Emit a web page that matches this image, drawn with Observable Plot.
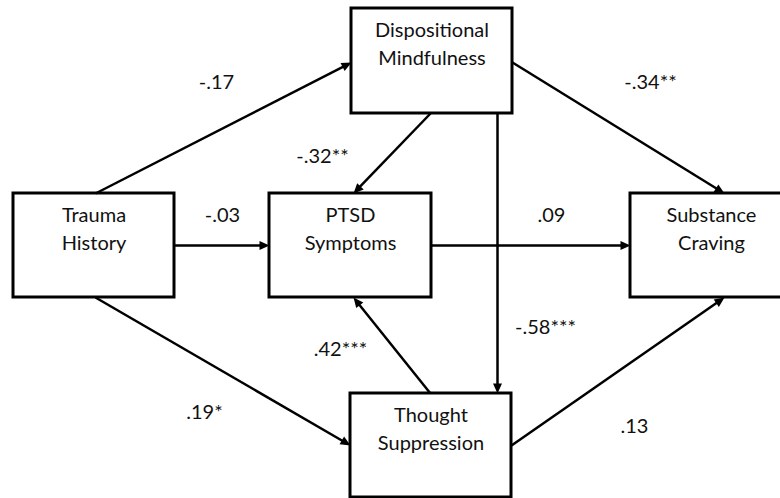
<!DOCTYPE html>
<html>
<head>
<meta charset="utf-8">
<script src="https://cdn.jsdelivr.net/npm/d3@7"></script>
<script src="https://cdn.jsdelivr.net/npm/@observablehq/plot@0.6"></script>
<style>
  html, body { margin: 0; padding: 0; background: #fff; }
  #chart svg { display: block; }
</style>
</head>
<body>
<div id="chart"></div>
<script>
// ---- data ----
const nodeIds = ["trauma", "mindful", "ptsd", "craving", "suppress"];
const nodeLabels = [
  ["Trauma", "History"],
  ["Dispositional", "Mindfulness"],
  ["PTSD", "Symptoms"],
  ["Substance", "Craving"],
  ["Thought", "Suppression"]
];
const pathFrom = ["trauma", "trauma", "trauma", "mindful", "mindful", "mindful", "ptsd", "suppress", "suppress"];
const pathTo   = ["mindful", "ptsd", "suppress", "ptsd", "suppress", "craving", "craving", "ptsd", "craving"];
const pathCoef = ["-.17", "-.03", ".19*", "-.32**", "-.58***", "-.34**", ".09", ".42***", ".13"];

// ---- layout (diagram geometry) ----
const boxX1 = [13, 351, 269, 630, 350];
const boxX2 = [174, 512, 431, 792, 511];
const boxY1 = [193, 8, 193, 193, 393];
const boxY2 = [297, 113, 297, 297, 497];
// arrow start / end points
const arrStart = [[95,193],[174,245],[95,297],[430,113],[497,113],[512,62],[431,245],[430,393],[511,445]];
const arrEnd   = [[351,62],[269,245],[350,445],[353,193],[497,393],[724,193],[630,245],[353,297],[724,297]];
// label centre / baseline positions
const labPos = [[216,88],[222,221],[204,418],[322,162],[545,333],[650,88],[551,221],[340,355],[634,432]];

// ---- build tables ----
const boxes = nodeIds.map((id, i) => ({id, x1: boxX1[i], x2: boxX2[i], y1: boxY1[i], y2: boxY2[i]}));
const boxText = [];
nodeIds.forEach((id, i) => {
  nodeLabels[i].forEach((t, j) => boxText.push({
    text: t, x: (boxX1[i] + Math.min(boxX2[i], 792)) / 2, y: boxY1[i] + 28 + j * 28
  }));
});
const headLen = 10;
const edges = pathFrom.map((f, i) => {
  const [x1, y1] = arrStart[i], [x2, y2] = arrEnd[i];
  const dx = x2 - x1, dy = y2 - y1, L = Math.hypot(dx, dy);
  const ux = dx / L, uy = dy / L;
  return {
    from: f, to: pathTo[i], coef: pathCoef[i],
    x1, y1, x2: x2 - ux * (headLen - 2), y2: y2 - uy * (headLen - 2),
    tx: x2, ty: y2,
    rot: Math.atan2(dx, -dy) * 180 / Math.PI,
    lx: labPos[i][0], ly: labPos[i][1]
  };
});

// filled triangle head, tip at origin pointing up
const headSymbol = {
  draw(ctx) {
    ctx.moveTo(0, 0);
    ctx.lineTo(-4.5, headLen);
    ctx.lineTo(4.5, headLen);
    ctx.closePath();
  }
};

const font = "Lato, 'Open Sans', sans-serif";

const chart = Plot.plot({
  width: 780,
  height: 498,
  margin: 0,
  x: {domain: [0, 780], range: [0, 780], axis: null},
  y: {domain: [0, 498], range: [0, 498], axis: null},
  style: {background: "#fff", fontFamily: font},
  marks: [
    Plot.rect(boxes, {x1: "x1", x2: "x2", y1: "y1", y2: "y2", fill: "#fff", stroke: "#000", strokeWidth: 3}),
    Plot.link(edges, {x1: "x1", y1: "y1", x2: "x2", y2: "y2", stroke: "#000", strokeWidth: 2.5}),
    Plot.dot(edges, {x: "tx", y: "ty", rotate: "rot", symbol: headSymbol, r: 5, fill: "#000", stroke: "none"}),
    Plot.text(boxText, {x: "x", y: "y", text: "text", fontSize: 20, fill: "#111", lineAnchor: "bottom", fontFamily: font}),
    Plot.text(edges, {x: "lx", y: "ly", text: "coef", fontSize: 20, fill: "#111", lineAnchor: "bottom", fontFamily: font})
  ]
});
document.getElementById("chart").append(chart);
</script>
</body>
</html>
